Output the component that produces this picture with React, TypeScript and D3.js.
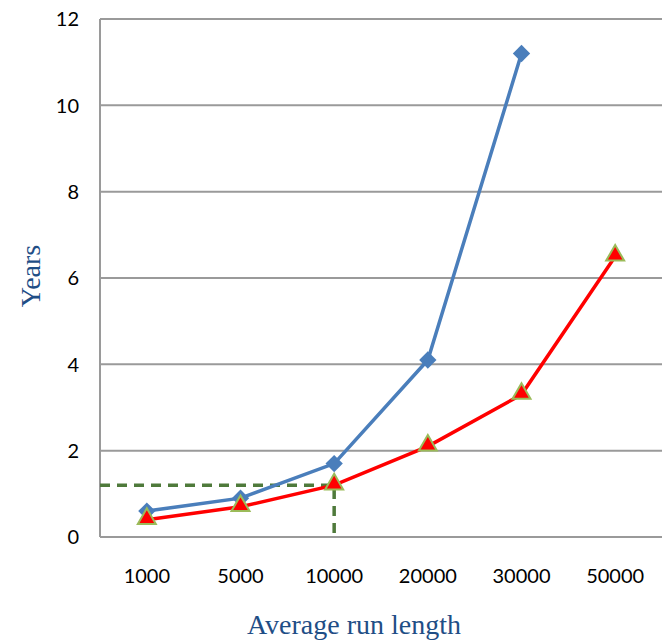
import { useRef, useEffect } from "react";
import * as d3 from "d3";

const categories = ["1000", "5000", "10000", "20000", "30000", "50000"];
const blueValues: (number | null)[] = [0.6, 0.9, 1.7, 4.1, 11.2, null];
const redValues: number[] = [0.4, 0.7, 1.2, 2.1, 3.3, 6.5];
const yTicks = [0, 2, 4, 6, 8, 10, 12];
const markerValue = { category: "10000", value: 1.2 };

const width = 662;
const height = 640;

function App() {
  const ref = useRef<SVGSVGElement | null>(null);

  useEffect(() => {
    if (!ref.current) return;
    const margin = { top: 19, right: 0, bottom: 103, left: 100 };
    const innerWidth = width - margin.left - margin.right;
    const innerHeight = height - margin.top - margin.bottom;

    const svg = d3.select(ref.current).html("");
    svg.append("rect").attr("width", width).attr("height", height).attr("fill", "#fff");
    const g = svg
      .append("g")
      .attr("transform", `translate(${margin.left},${margin.top})`);

    const x = d3.scaleBand().domain(categories).range([0, innerWidth]);
    const y = d3.scaleLinear().domain([0, 12]).range([innerHeight, 0]);
    const cx = (c: string) => (x(c) as number) + x.bandwidth() / 2;

    // grid
    g.selectAll(".grid")
      .data(yTicks.filter((t) => t > 0))
      .enter()
      .append("line")
      .attr("x1", 0)
      .attr("x2", innerWidth)
      .attr("y1", (d) => y(d))
      .attr("y2", (d) => y(d))
      .attr("stroke", "#9a9a9a")
      .attr("stroke-width", 2);

    // axes lines
    g.append("line")
      .attr("x1", 0)
      .attr("x2", 0)
      .attr("y1", 0)
      .attr("y2", innerHeight)
      .attr("stroke", "#9a9a9a")
      .attr("stroke-width", 2);
    g.append("line")
      .attr("x1", 0)
      .attr("x2", innerWidth)
      .attr("y1", innerHeight)
      .attr("y2", innerHeight)
      .attr("stroke", "#9a9a9a")
      .attr("stroke-width", 2);

    // tick labels
    g.selectAll(".ylab")
      .data(yTicks)
      .enter()
      .append("text")
      .attr("x", -21)
      .attr("y", (d) => y(d))
      .attr("dy", "0.36em")
      .attr("text-anchor", "end")
      .style("font-family", "Lato, 'Open Sans', sans-serif")
      .style("font-size", "20px")
      .attr("fill", "#000")
      .text((d) => d);

    g.selectAll(".xlab")
      .data(categories)
      .enter()
      .append("text")
      .attr("x", (d) => cx(d))
      .attr("y", innerHeight + 46)
      .attr("text-anchor", "middle")
      .style("font-family", "Lato, 'Open Sans', sans-serif")
      .style("font-size", "20px")
      .attr("fill", "#000")
      .text((d) => d);

    // axis titles
    svg
      .append("text")
      .attr("x", 354)
      .attr("y", 634)
      .attr("text-anchor", "middle")
      .style("font-family", "'Liberation Serif', serif")
      .style("font-size", "28px")
      .attr("fill", "#1f4e86")
      .text("Average run length");
    svg
      .append("text")
      .attr("transform", `translate(40,${276}) rotate(-90)`)
      .attr("text-anchor", "middle")
      .style("font-family", "'Liberation Serif', serif")
      .style("font-size", "28px")
      .attr("fill", "#1f4e86")
      .text("Years");

    // dashed reference lines
    const mx = cx(markerValue.category);
    const my = y(markerValue.value);
    g.append("path")
      .attr("d", `M0,${my}H${mx}V${innerHeight}`)
      .attr("fill", "none")
      .attr("stroke", "#4f7a3b")
      .attr("stroke-width", 3.5)
      .attr("stroke-dasharray", "10,7");

    // blue series
    const blueData = categories
      .map((c, i) => ({ c, v: blueValues[i] }))
      .filter((d) => d.v !== null) as { c: string; v: number }[];
    const line = d3
      .line<{ c: string; v: number }>()
      .x((d) => cx(d.c))
      .y((d) => y(d.v));
    g.append("path")
      .datum(blueData)
      .attr("fill", "none")
      .attr("stroke", "#4a7ebb")
      .attr("stroke-width", 3.5)
      .attr("d", line);

    // red series
    const redData = categories.map((c, i) => ({ c, v: redValues[i] }));
    g.append("path")
      .datum(redData)
      .attr("fill", "none")
      .attr("stroke", "#ff0000")
      .attr("stroke-width", 3.5)
      .attr("d", line);

    // blue diamonds
    const diamond = d3.symbol().type(d3.symbolSquare).size(150);
    g.selectAll(".bm")
      .data(blueData)
      .enter()
      .append("path")
      .attr("d", diamond as any)
      .attr("transform", (d) => `translate(${cx(d.c)},${y(d.v)}) rotate(45)`)
      .attr("fill", "#4a7ebb");

    // red triangles
    const tri = d3.symbol().type(d3.symbolTriangle).size(140);
    g.selectAll(".rm")
      .data(redData)
      .enter()
      .append("path")
      .attr("d", tri as any)
      .attr("transform", (d) => `translate(${cx(d.c)},${y(d.v) - 1})`)
      .attr("fill", "#ff0000")
      .attr("stroke", "#9bbb59")
      .attr("stroke-width", 2);
  }, []);

  return (
    <div style={{ position: "absolute", left: 0, top: 0 }}>
      <svg ref={ref} width={width} height={height}></svg>
    </div>
  );
}

export default App;
